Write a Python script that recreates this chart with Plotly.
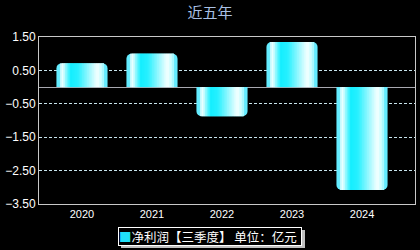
import plotly.graph_objects as go

years = ["2020", "2021", "2022", "2023", "2024"]
profit = [0.71, 1.00, -0.87, 1.35, -3.08]
y_ticks = [1.5, 0.5, -0.5, -1.5, -2.5, -3.5]
series_name = "净利润【三季度】 单位：亿元"

# horizontal gradient profile across the bar (fraction -> rgb)
grad = [(0.0, (110, 238, 255)), (0.12, (235, 255, 255)), (0.28, (20, 238, 255)),
        (0.42, (40, 240, 255)), (0.80, (245, 255, 255)), (0.90, (190, 252, 255)),
        (1.0, (70, 230, 255))]


def color_at(f):
    for (f0, c0), (f1, c1) in zip(grad[:-1], grad[1:]):
        if f0 <= f <= f1:
            t = (f - f0) / (f1 - f0)
            c = [round(a + (b - a) * t) for a, b in zip(c0, c1)]
            return "rgb(%d,%d,%d)" % tuple(c)
    return "rgb(%d,%d,%d)" % grad[-1][1]


W = 0.73
R = 0.05  # corner zone (units)
N = 26

fig = go.Figure()
fig.add_trace(go.Bar(x=years, y=profit, width=W, offset=-W / 2, name=series_name,
                     marker=dict(color="rgb(100,236,255)", cornerradius=5, line=dict(width=0)),
                     showlegend=False, hoverinfo="skip"))
inner = W - 2 * R
sw = inner / N
for i in range(N):
    off = -W / 2 + R + i * sw
    f = (off + sw / 2 + W / 2) / W
    fig.add_trace(go.Bar(x=years, y=profit, width=min(sw * 2.0, W / 2 - off - R),
                         offset=off,
                         marker=dict(color=color_at(f), line=dict(width=0)),
                         showlegend=False, hoverinfo="skip"))

fig.update_layout(
    barmode="overlay",
    width=420, height=250,
    paper_bgcolor="black", plot_bgcolor="black",
    margin=dict(l=39, r=5, t=37, b=46, autoexpand=False),
    title=dict(text="近五年", x=0.5, xanchor="center", y=0.948, yanchor="middle",
               yref="container",
               font=dict(family="Noto Sans CJK SC", size=15, color="#a9c0e4")),
    font=dict(family="Liberation Sans, Arial", size=12, color="white"),
    xaxis=dict(type="category", range=[-0.614, 4.757], showgrid=False,
               showline=True, linecolor="#c8c8c8", linewidth=1, mirror=True,
               ticks="", tickfont=dict(size=11, color="white")),
    yaxis=dict(range=[-3.5, 1.5], tickvals=y_ticks, tickformat=".2f",
               showgrid=True, gridcolor="#c8e4ec", griddash="3px,2px", gridwidth=1,
               zeroline=True, zerolinecolor="#a8a8b0", zerolinewidth=1,
               showline=True, linecolor="#c8c8c8", linewidth=1, mirror=True,
               ticks="", tickfont=dict(size=12, color="white")),
    showlegend=False,
)

# custom legend box (shadow + bordered label)
fig.add_shape(type="rect", xref="paper", yref="paper",
              x0=(121 - 39) / 376, x1=(305 - 39) / 376,
              y0=(204 - 248) / 167, y1=(204 - 230) / 167,
              fillcolor="#c0c0c0", line=dict(width=0), layer="below")
fig.add_annotation(
    xref="paper", yref="paper", x=(118 - 39) / 376, y=(204 - 236.5) / 167,
    xanchor="left", yanchor="middle", showarrow=False,
    width=182, height=17, align="left", valign="middle",
    text="<span style='color:#20e0f8'>■</span>" + series_name,
    font=dict(family="Noto Sans CJK SC", size=12.5, color="white"),
    bgcolor="black", bordercolor="white", borderwidth=1, borderpad=0,
)
fig.write_html("out.html")
